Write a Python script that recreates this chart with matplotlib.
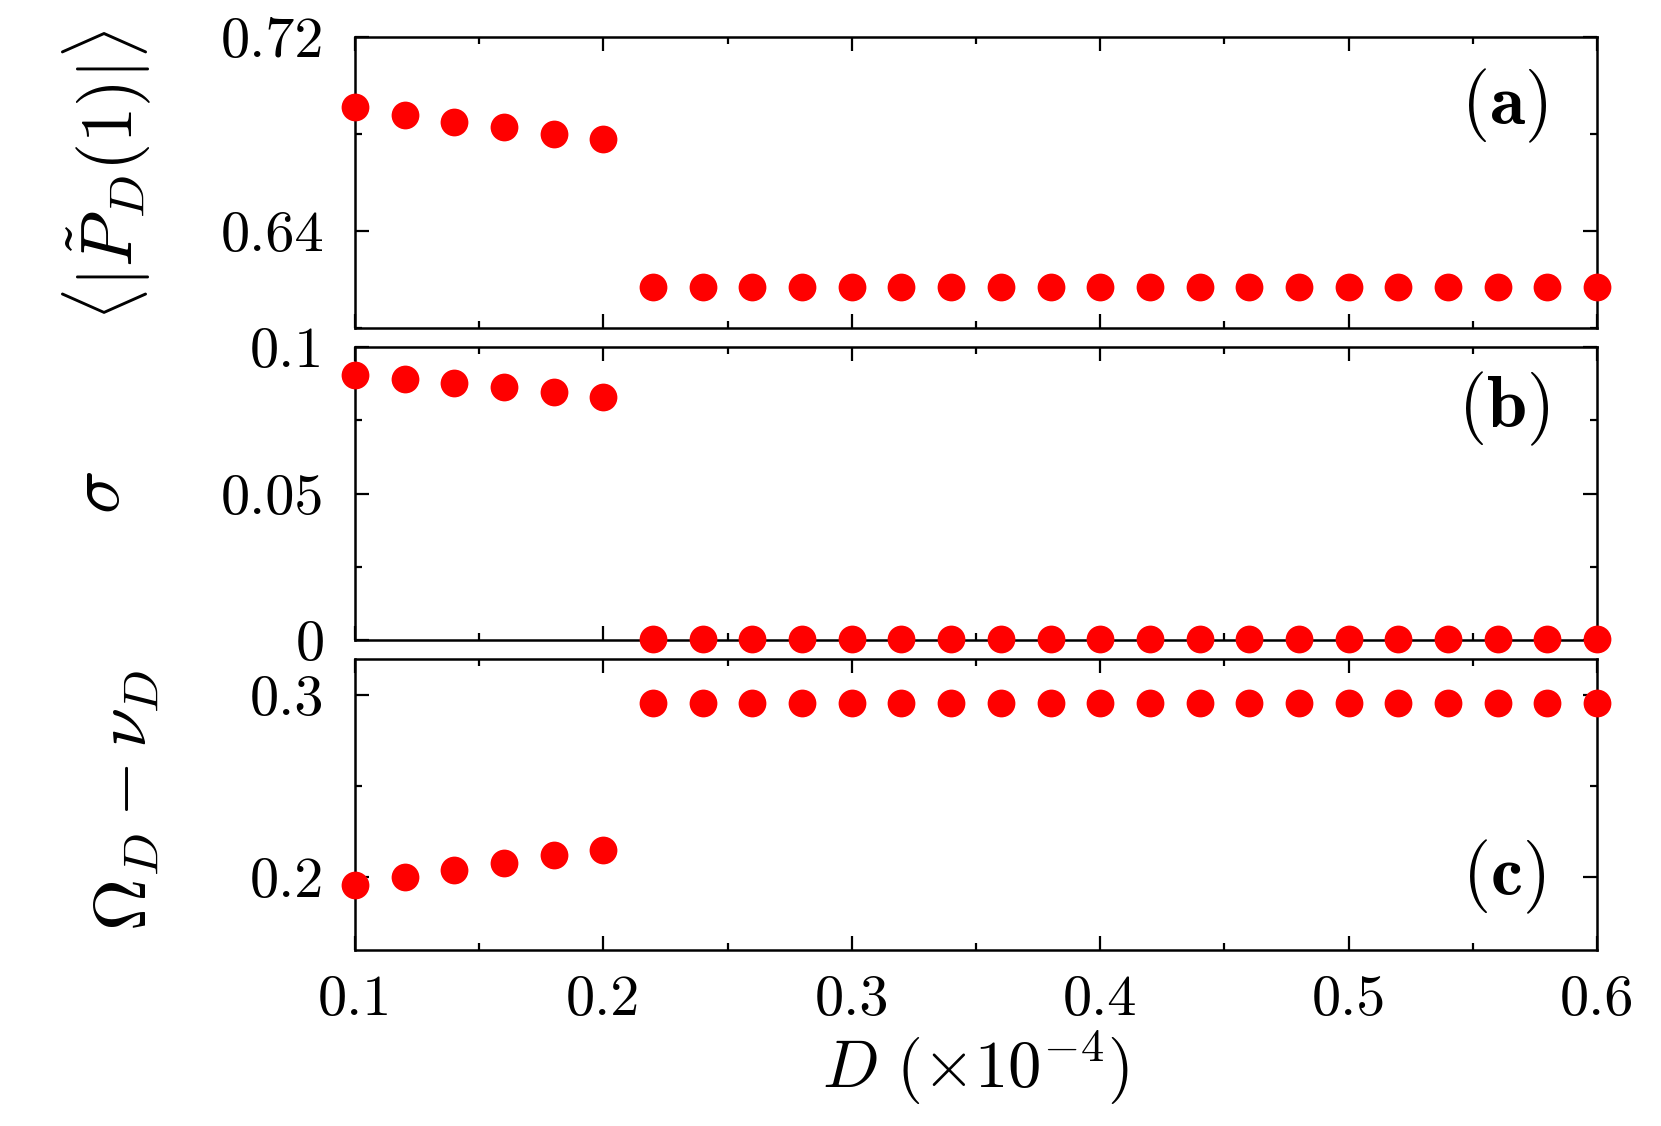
import matplotlib
matplotlib.use("Agg")
import matplotlib.pyplot as plt
from matplotlib.ticker import MultipleLocator

plt.rcParams['font.family'] = 'serif'
plt.rcParams['font.serif'] = ['cmr10']
plt.rcParams['mathtext.fontset'] = 'cm'
plt.rcParams['axes.unicode_minus'] = False

# noise strength D (x1e-4)
D = [0.10, 0.12, 0.14, 0.16, 0.18, 0.20, 0.22, 0.24, 0.26, 0.28, 0.30, 0.32, 0.34,
     0.36, 0.38, 0.40, 0.42, 0.44, 0.46, 0.48, 0.50, 0.52, 0.54, 0.56, 0.58, 0.60]

# (a) mean |P_D(1)|
p_mean = [0.691, 0.688, 0.685, 0.683, 0.680, 0.678,
          0.617, 0.617, 0.617, 0.617, 0.617, 0.617, 0.617, 0.617, 0.617, 0.617,
          0.617, 0.617, 0.617, 0.617, 0.617, 0.617, 0.617, 0.617, 0.617, 0.617]

# (b) sigma
sigma = [0.0905, 0.0891, 0.0877, 0.0862, 0.0846, 0.0830,
         0.0005, 0.0005, 0.0005, 0.0005, 0.0005, 0.0005, 0.0005, 0.0005, 0.0005, 0.0005,
         0.0005, 0.0005, 0.0005, 0.0005, 0.0005, 0.0005, 0.0005, 0.0005, 0.0005, 0.0005]

# (c) Omega_D - nu_D
freq_diff = [0.196, 0.200, 0.204, 0.208, 0.212, 0.215,
             0.296, 0.296, 0.296, 0.296, 0.296, 0.296, 0.296, 0.296, 0.296, 0.296,
             0.296, 0.296, 0.296, 0.296, 0.296, 0.296, 0.296, 0.296, 0.296, 0.296]

x_ticks = [0.1, 0.2, 0.3, 0.4, 0.5, 0.6]
x_ticklabels = ['0.1', '0.2', '0.3', '0.4', '0.5', '0.6']

fig = plt.figure(figsize=(16.61, 11.26), dpi=100)
left, width = 0.2137, 0.7478
ax_a = fig.add_axes([left, 0.7087, width, 0.2583])
ax_b = fig.add_axes([left, 0.4316, width, 0.2602])
ax_c = fig.add_axes([left, 0.1563, width, 0.2584])

panels = [
    (ax_a, p_mean, (0.60, 0.72), [0.64, 0.72], ['0.64', '0.72'], 0.04,
     r'$\langle|\tilde{P}_D(1)|\rangle$', -0.200, 0.526, '(a)', 0.763),
    (ax_b, sigma, (0.0, 0.1), [0.0, 0.05, 0.1], ['0', '0.05', '0.1'], 0.025,
     r'$\sigma$', -0.205, 0.505, '(b)', 0.79),
    (ax_c, freq_diff, (0.16, 0.32), [0.2, 0.3], ['0.2', '0.3'], 0.05,
     r'$\Omega_D-\nu_D$', -0.184, 0.515, '(c)', 0.25),
]

for ax, vals, ylim, yt, ytl, yminor, ylab, lx, ly, tag, ty in panels:
    ax.plot(D, vals, 'o', color='#ff0000', markersize=20, markeredgewidth=0,
            clip_on=False, zorder=5)
    ax.set_xlim(0.1, 0.6)
    ax.set_ylim(*ylim)
    ax.set_xticks(x_ticks)
    ax.xaxis.set_minor_locator(MultipleLocator(0.05))
    ax.set_yticks(yt, ytl)
    ax.yaxis.set_minor_locator(MultipleLocator(yminor))
    ax.tick_params(which='both', direction='in', top=True, right=True,
                   width=1.6, labelsize=42)
    ax.tick_params(which='major', length=10)
    ax.tick_params(which='minor', length=5)
    ax.tick_params(axis='y', pad=22)
    for s in ax.spines.values():
        s.set_linewidth(1.8)
    ax.set_ylabel(ylab, fontsize=52, rotation=90, ha='center', va='center')
    ax.yaxis.set_label_coords(lx, ly)
    ax.text(0.925, ty, r'$\mathbf{' + tag + '}$', transform=ax.transAxes,
            fontsize=52, ha='center', va='center')

ax_a.tick_params(axis='x', labelbottom=False)
ax_b.tick_params(axis='x', labelbottom=False)
ax_c.set_xticks(x_ticks, x_ticklabels)
ax_c.tick_params(axis='x', pad=18)
ax_c.set_xlabel(r'$D\ (\times10^{-4})$', fontsize=48, labelpad=2)

fig.savefig('out.png', dpi=100)
